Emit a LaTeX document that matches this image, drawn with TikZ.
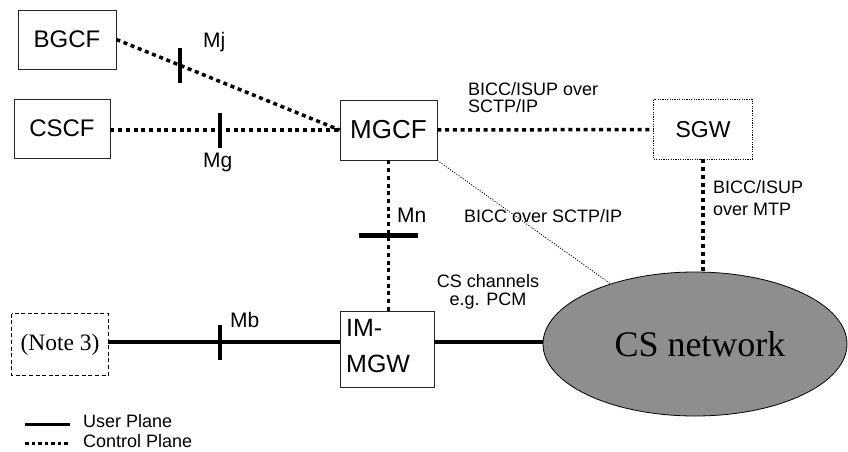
\documentclass[tikz,border=0pt]{standalone}
\usepackage{fontspec}
\setmainfont{Liberation Serif}
\setsansfont{Liberation Sans}
\usetikzlibrary{shapes.geometric}
\definecolor{csgray}{RGB}{142,142,142}
\begin{document}
\begin{tikzpicture}[x=1pt,y=-1pt,
  box/.style={draw=black!85, line width=0.8pt, inner sep=0pt, font=\sffamily\fontsize{24}{28}\selectfont},
  ctrl/.style={line width=3.5pt, dash pattern=on 4pt off 3.7pt},
  thinctrl/.style={line width=0.9pt, dash pattern=on 1pt off 1.6pt},
  user/.style={line width=3.7pt},
  tickmark/.style={line width=4.5pt},
  lbl/.style={inner sep=0pt, font=\sffamily\fontsize{18}{18}\selectfont, align=left},
  mlbl/.style={inner sep=0pt, font=\sffamily\fontsize{21}{24}\selectfont, anchor=base west}
]
\useasboundingbox (0,0) rectangle (848,452);

% nodes
\node[box, minimum width=98pt, minimum height=59pt] (BGCF) at (67,39.5) {BGCF};
\node[box, minimum width=96pt, minimum height=59pt] (CSCF) at (62,128.5) {CSCF};
\node[box, minimum width=97pt, minimum height=60pt, font=\sffamily\fontsize{26}{30}\selectfont] (MGCF) at (388.5,130) {MGCF};
\node[box, draw=none, minimum width=98pt, minimum height=59pt, font=\sffamily\fontsize{23}{28}\selectfont] (SGW) at (703,129.5) {SGW};
\draw[line width=1.2pt, dash pattern=on 1.2pt off 1.2pt] (SGW.north west) rectangle (SGW.south east);
\node[box, draw=none, minimum width=96pt, minimum height=61pt, font=\rmfamily\fontsize{23.5}{28}\selectfont] (Note) at (60,344.5) {(Note 3)};
\draw[line width=1.2pt, dash pattern=on 4pt off 2.6pt] (Note.north west) rectangle (Note.south east);
\node[box, minimum width=94pt, minimum height=76pt] (IMMGW) at (387,349) {};
\node[inner sep=0pt, anchor=north west, align=left, font=\sffamily\fontsize{25}{36}\selectfont] (IMMGWtext) at (346,319) {IM-\\MGW};
\node[ellipse, draw=black, line width=0.8pt, fill=csgray, minimum width=304pt, minimum height=144pt, inner sep=0pt, font=\rmfamily\fontsize{36}{40}\selectfont] (CS) at (695,344) {\hspace{10pt}CS network};

% connectors
\draw[ctrl] (BGCF.east) -- (MGCF.west) coordinate[pos=0.286] (mj);
\draw[tickmark] ([yshift=17.5pt]mj) -- ([yshift=-17.5pt]mj);
\node[mlbl] at (203,48) {Mj};

\draw[ctrl] (CSCF.east |- MGCF.west) -- (MGCF.west) coordinate[pos=0.478] (mg);
\draw[tickmark] ([yshift=17.5pt]mg) -- ([yshift=-17.5pt]mg);
\node[mlbl] at (203,167) {Mg};

\draw[ctrl] (MGCF.east) -- (SGW.west);
\node[lbl, anchor=north west, font=\sffamily\fontsize{18}{17.5}\selectfont] at (468,82) {BICC/ISUP over\\SCTP/IP};

\draw[ctrl] (MGCF.south) -- (MGCF.south |- IMMGW.north) coordinate[pos=0.5] (mn);
\draw[tickmark] ([xshift=-29.5pt]mn) -- ([xshift=29.5pt]mn);
\node[mlbl] at (397,222) {Mn};

\draw[thinctrl] (MGCF.south east) -- (CS);
\node[lbl, anchor=base west] at (464,222) {BICC over SCTP/IP};

\draw[ctrl] (SGW.south) -- (SGW.south |- CS.north);
\node[lbl, anchor=base west, font=\sffamily\fontsize{18}{22}\selectfont] at (713,215) {BICC/ISUP\\over MTP};

\draw[user] ([yshift=2.5pt]Note.east) coordinate (mbl) -- (mbl -| IMMGW.west) coordinate[pos=0.483] (mb);
\draw[tickmark] ([yshift=17.5pt]mb) -- ([yshift=-17.5pt]mb);
\node[mlbl] at (230,327) {Mb};

\draw[user] (mbl -| IMMGW.east) -- (mbl -| CS.west);
\node[lbl, align=center, anchor=base] at (488,305) {CS channels\\e.g. PCM};

% legend
\coordinate (u1) at (25,424);
\coordinate (u2) at (70,424);
\coordinate (c1) at (25,443);
\coordinate (c2) at (70,443);
\draw[line width=3pt] (u1) -- (u2);
\draw[line width=3pt, dash pattern=on 3.5pt off 3pt] (c1) -- (c2);
\node[lbl, anchor=base west] at (83,427) {User Plane};
\node[lbl, anchor=base west] at (83,447) {Control Plane};
\end{tikzpicture}
\end{document}
